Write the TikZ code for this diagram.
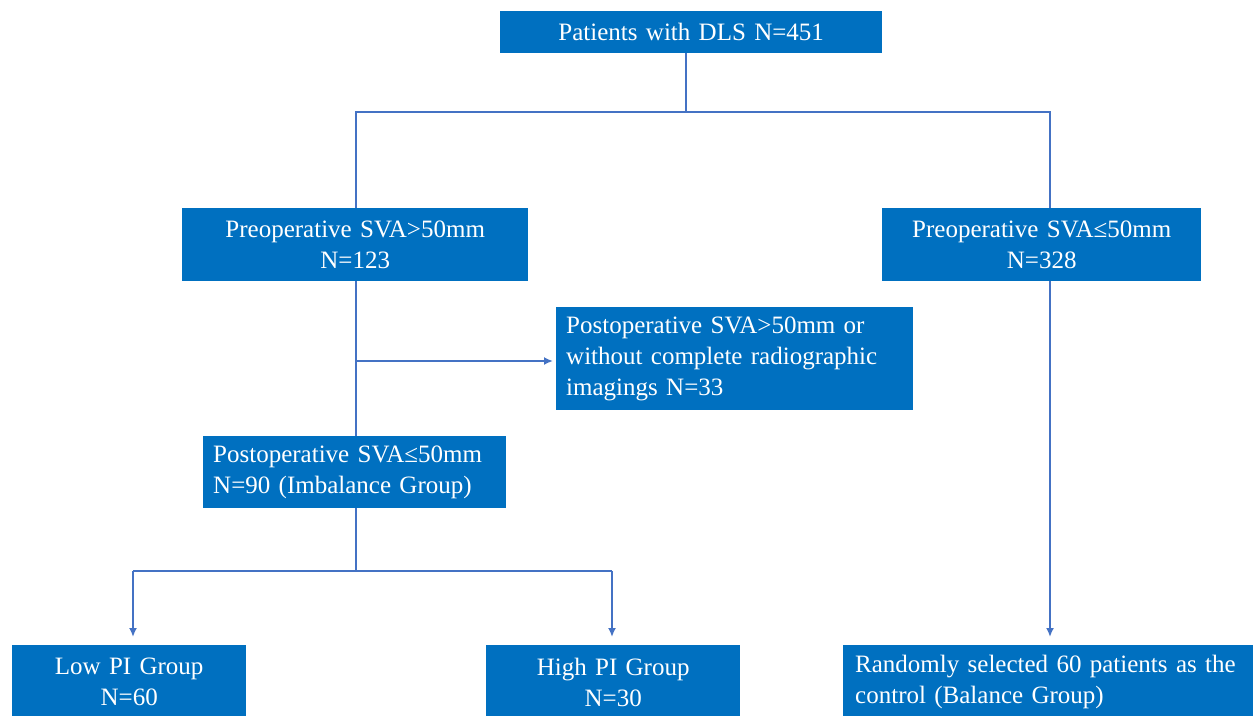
\documentclass[tikz,border=0pt]{standalone}
\usepackage{fontspec}
\setmainfont{Liberation Serif}
\usetikzlibrary{arrows.meta}
\definecolor{boxblue}{HTML}{0070C0}
\definecolor{lineblue}{HTML}{4472C4}
\tikzset{
  box/.style={fill=boxblue, text=white, anchor=north west, inner ysep=0pt, inner xsep=10pt,
    font=\fontsize{25}{31}\selectfont, align=center},
  lbox/.style={box, align=left},
  conn/.style={draw=lineblue, line width=1.8pt},
  arr/.style={conn, -{Latex[length=9pt,width=8pt]}},
}
\begin{document}
\begin{tikzpicture}[x=1pt,y=-1pt]
\useasboundingbox (0,0) rectangle (1253,715);
\clip (0,0) rectangle (1253,715);
\fill[white] (0,0) rectangle (1253,715);

\node[box, text width=362pt, minimum height=42pt] (b1) at (500,11) {Patients with DLS N=451};
\node[box, text width=326pt, minimum height=73pt] (b2) at (182,208) {Preoperative SVA>50mm\\N=123};
\node[box, text width=299pt, minimum height=73pt] (b3) at (882,208) {Preoperative SVA≤50mm\\N=328};
\node[lbox, text width=337pt, minimum height=103pt] (b5) at (556,307) {Postoperative SVA>50mm or\\without complete radiographic\\imagings N=33};
\node[lbox, text width=283pt, minimum height=72pt] (b4) at (203,436) {Postoperative SVA≤50mm\\N=90 (Imbalance Group)};
\node[box, text width=214pt, minimum height=74pt] (b6) at (12,645) {Low PI Group\\N=60};
\node[box, text width=234pt, minimum height=74pt] (b7) at (486,645) {High PI Group\\N=30};
\node[lbox, inner xsep=12pt, text width=396pt, minimum height=74pt] (b8) at (843,645) {Randomly selected 60 patients as the\\control (Balance Group)};

\coordinate (j1) at (686,112);
\coordinate (lx) at (356,112);
\coordinate (rx) at (1050,112);
\coordinate (m1) at (356,361);
\coordinate (j2) at (356,571);
\coordinate (l2) at (133,571);
\coordinate (r2) at (612,571);

\draw[conn] (b1.south -| j1) -- (j1);
\draw[conn] (lx |- b2.north) -- (lx) -- (rx) -- (rx |- b3.north);
\draw[conn] (lx |- b2.south) -- (lx |- b4.north);
\draw[arr, shorten >=3pt] (m1) -- (b5.west |- m1);
\draw[conn] (lx |- b4.south) -- (j2);
\draw[conn] (l2) -- (r2);
\draw[arr, shorten >=8pt] (l2) -- (l2 |- b6.north);
\draw[arr, shorten >=8pt] (r2) -- (r2 |- b7.north);
\draw[arr, shorten >=8pt] (rx |- b3.south) -- (rx |- b8.north);
\end{tikzpicture}
\end{document}
